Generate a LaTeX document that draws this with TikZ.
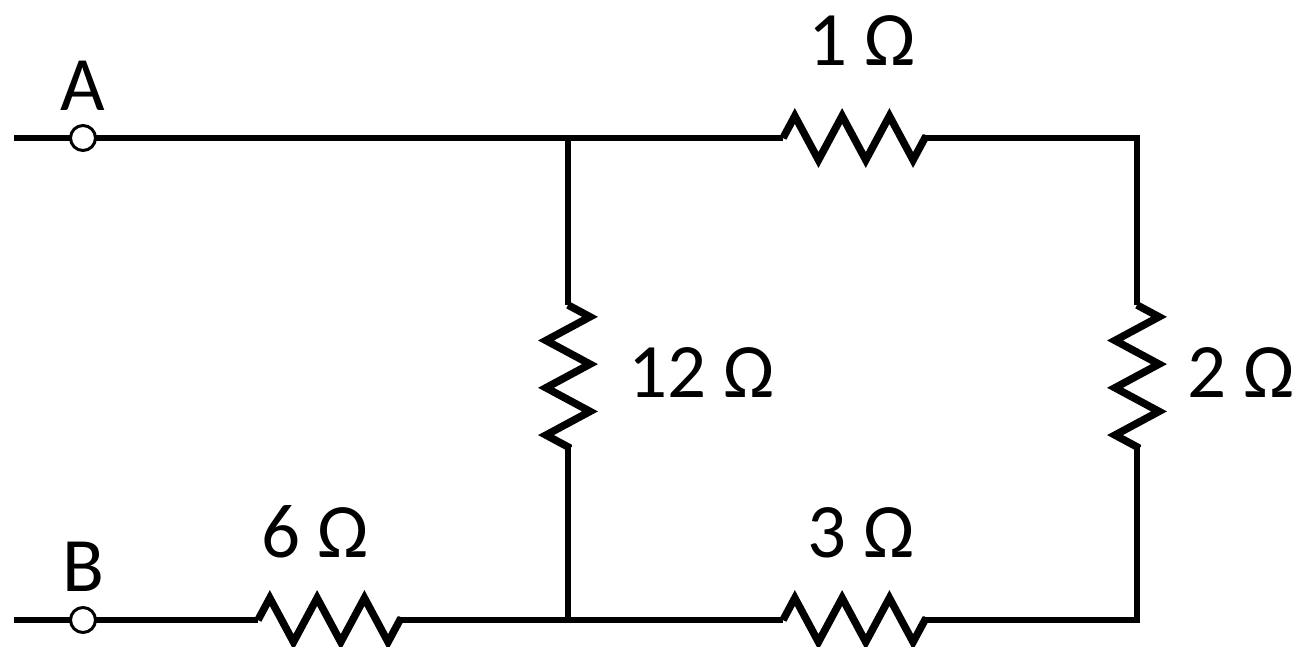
\documentclass[tikz,border=0pt]{standalone}
\usepackage{fontspec}
\setmainfont{Carlito}
\usetikzlibrary{decorations.pathmorphing}
\begin{document}
\begin{tikzpicture}[x=1pt,y=-1pt,
  wire/.style={line width=5.5pt},
  res/.style={line width=7.5pt, decorate, decoration={zigzag, segment length=47.3pt, amplitude=22pt}},
  term/.style={circle, draw, line width=3pt, fill=white, minimum size=25pt, inner sep=0pt},
  lbl/.style={font=\fontsize{77}{80}\selectfont, inner sep=0pt}]
\useasboundingbox (0,0) rectangle (1301,646);
% coordinates
\coordinate (s1) at (14,138);
\coordinate (s2) at (14,620);
\coordinate (jt) at (568,138);
\coordinate (jb) at (568,620);
\coordinate (r1a) at (783,138);
\coordinate (r1b) at (925,138);
\coordinate (r2a) at (1137,305);
\coordinate (r2b) at (1137,447);
\coordinate (r3a) at (783,620);
\coordinate (r3b) at (925,620);
\coordinate (r12a) at (568,305);
\coordinate (r12b) at (568,447);
\coordinate (r6a) at (258,620);
\coordinate (r6b) at (400,620);
% wires
\draw[wire] (s1) -- (jt) -- (r1a);
\draw[wire] (r1b) -| (r2a);
\draw[wire] (r2b) |- (r3b);
\draw[wire] (r3a) -- (jb) -- (r6b);
\draw[wire] (r6a) -- (s2);
\draw[wire] (jt) -- (r12a);
\draw[wire] (r12b) -- (jb);
% resistors
\draw[res] (r1a) -- (r1b);
\draw[res] (r2a) -- (r2b);
\draw[res] (r3a) -- (r3b);
\draw[res] (r12a) -- (r12b);
\draw[res] (r6a) -- (r6b);
% terminals
\node[term] (A) at (83,138) {};
\node[term] (B) at (83,620) {};
% labels
\node[lbl, anchor=base] (lA) at (83,110) {A};
\node[lbl, anchor=base] (lB) at (83,591) {B};
\node[lbl, anchor=base] (l1) at (862,65) {1 Ω};
\node[lbl, anchor=base west] (l12) at (628,397) {12 Ω};
\node[lbl, anchor=base west] (l2) at (1187,397) {2 Ω};
\node[lbl, anchor=base] (l6) at (315,557) {6 Ω};
\node[lbl, anchor=base] (l3) at (861,557) {3 Ω};
\end{tikzpicture}
\end{document}
